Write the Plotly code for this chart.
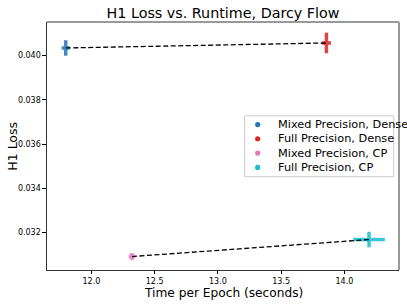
import plotly.graph_objects as go

labels = ["Mixed Precision, Dense", "Full Precision, Dense", "Mixed Precision, CP", "Full Precision, CP"]
colors = ["#1f77b4", "#d62728", "#e377c2", "#17becf"]
time_per_epoch = [11.797, 13.858, 12.321, 14.195]
time_err = [0.032, 0.037, 0.026, 0.125]
h1_loss = [0.040347, 0.040573, 0.030917, 0.031684]
h1_err = [0.00035, 0.000466, 0.00016, 0.00035]
pairs = [(0, 1), (2, 3)]

FONT = "DejaVu Sans"
W, H = 407, 305
ML, MR, MT, MB = 47.3, 7.7, 22, 34.5
PW, PH = W - ML - MR, H - MT - MB


def px_x(x):
    return (x - ML) / PW


def px_y(y):
    return (H - MB - y) / PH


fig = go.Figure()

for i in range(4):
    fig.add_trace(go.Scatter(
        x=[time_per_epoch[i]], y=[h1_loss[i]], mode="markers", name=labels[i],
        marker=dict(color=colors[i], size=5),
        error_x=dict(type="data", array=[time_err[i]], color=colors[i], thickness=3.5, width=0),
        error_y=dict(type="data", array=[h1_err[i]], color=colors[i], thickness=3.5, width=0),
        opacity=0.85, showlegend=False,
    ))

for a, b in pairs:
    fig.add_trace(go.Scatter(
        x=[time_per_epoch[a], time_per_epoch[b]], y=[h1_loss[a], h1_loss[b]],
        mode="lines", line=dict(color="black", dash="5px,2.5px", width=1.3),
        showlegend=False, hoverinfo="skip",
    ))

fig.update_layout(
    width=W, height=H,
    margin=dict(l=ML, r=MR, t=MT, b=MB),
    paper_bgcolor="white", plot_bgcolor="white",
    font=dict(family=FONT, color="black"),
    title=dict(text="H1 Loss vs. Runtime, Darcy Flow", x=0.5, xref="paper", xanchor="center",
               y=1 - 13 / H, yanchor="middle", font=dict(size=14.3, family=FONT)),
    showlegend=False,
    xaxis=dict(range=[11.649, 14.432], tickvals=[12.0, 12.5, 13.0, 13.5, 14.0],
               ticktext=["12.0", "12.5", "13.0", "13.5", "14.0"],
               ticks="outside", ticklen=3, tickwidth=0.8, tickcolor="black",
               tickfont=dict(size=8, family=FONT), automargin=False,
               showline=True, linecolor="#333333", linewidth=1.2, showgrid=False, zeroline=False),
    yaxis=dict(range=[0.030308, 0.041521], tickvals=[0.032, 0.034, 0.036, 0.038, 0.040],
               ticktext=["0.032", "0.034", "0.036", "0.038", "0.040"],
               ticks="outside", ticklen=3.5, tickwidth=0.8, tickcolor="black",
               tickfont=dict(size=8, family=FONT), automargin=False,
               showline=True, linecolor="#333333", linewidth=1.2, showgrid=False, zeroline=False),
)

# Axis titles
fig.add_annotation(xref="paper", yref="paper", x=0.5, y=px_y(293.5),
                   text="Time per Epoch (seconds)", showarrow=False, borderpad=0,
                   xanchor="center", yanchor="middle", font=dict(size=12.2, family=FONT, color="black"))
fig.add_annotation(xref="paper", yref="paper", x=px_x(12), y=0.5,
                   text="H1 Loss", showarrow=False, textangle=-90,
                   xanchor="center", yanchor="middle", font=dict(size=12.5, family=FONT, color="black"))

fig.add_shape(type="line", xref="paper", yref="paper", x0=0, x1=1, y0=1, y1=1,
              line=dict(color="#999999", width=2))
fig.add_shape(type="line", xref="paper", yref="paper", x0=1, x1=1, y0=0, y1=1,
              line=dict(color="#999999", width=2))

# Legend box (drawn manually to match row spacing)
fig.add_shape(type="rect", xref="paper", yref="paper",
              x0=px_x(245), x1=px_x(394), y0=px_y(177), y1=px_y(116),
              line=dict(color="#cccccc", width=1), fillcolor="white", layer="above")
row_y = [124.7, 139.0, 153.3, 167.7]
for i in range(4):
    fig.add_shape(type="circle", xref="paper", yref="paper",
                  xsizemode="pixel", ysizemode="pixel",
                  xanchor=px_x(258), yanchor=px_y(row_y[i]),
                  x0=-2.6, x1=2.6, y0=-2.6, y1=2.6,
                  fillcolor=colors[i], line=dict(width=0), layer="above")
    fig.add_annotation(xref="paper", yref="paper", x=px_x(276), y=px_y(row_y[i]),
                       text=labels[i], showarrow=False, xanchor="left", yanchor="middle",
                       font=dict(size=11.3, family=FONT, color="black"))

fig.write_html("out.html", config={"displayModeBar": False},
               post_script="document.body.style.margin='0';document.body.style.overflow='hidden';")
